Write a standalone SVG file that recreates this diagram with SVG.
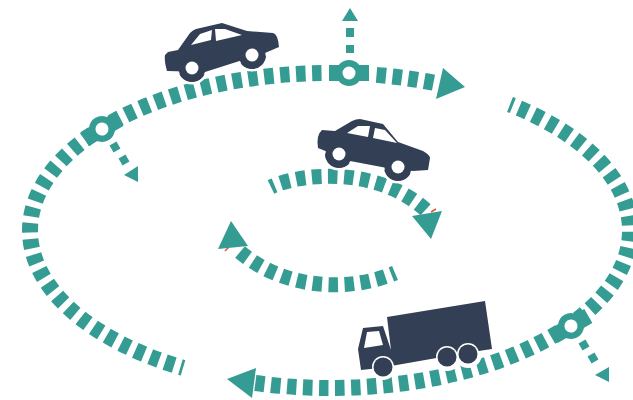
<svg xmlns="http://www.w3.org/2000/svg" width="633" height="400" viewBox="0 0 633 400">
<style>
.road{fill:none;stroke:#359c93;stroke-width:16;stroke-dasharray:9.500 6.500}
.inner{fill:none;stroke:#359c93;stroke-width:15;stroke-dasharray:9.500 6.500}
.t{fill:#359c93}
.d{fill:#333f54;stroke:#fff;stroke-width:5;paint-order:stroke;stroke-linejoin:round}
.p{fill:#333f54}
.w{fill:#fff}
.r{fill:none;stroke:#d9583c;stroke-width:1.500}
</style>
<rect width="633" height="400" fill="#fff"/>
<g id="connectors">
<path class="road" d="M321.500 73A300 157.500 0 0 0 30 230.500A300 157.500 0 0 0 183 367.800"/>
<path class="road" d="M376.500 74.900A300 157.500 0 0 1 437 83.400"/>
<path class="road" stroke-dashoffset="6.500" d="M510 104.500A300 157.500 0 0 1 630 230.500A300 157.500 0 0 1 255 383"/>
<path class="inner" stroke-dashoffset="5.500" d="M271 187C300 173 380 165 429 213"/>
<path class="inner" stroke-dashoffset="5.500" d="M395 273C350 292 285 290 240 252"/>
<path class="r" d="M431 212L436 209M225 251L229 247"/>
<polygon class="t" points="465,87 443,68 436,99"/>
<polygon class="t" points="227,379 256,368 252,398"/>
<polygon class="t" points="412,216 442,211 431,239"/>
<polygon class="t" points="231,221 248,246 218,249"/>
<polygon class="t" points="350,8 342,21 358,21"/>
<rect class="t" x="346" y="28" width="8" height="9"/>
<rect class="t" x="346" y="45" width="8" height="8"/>
<polygon class="t" points="138,166 138,182 124,175"/>
<rect class="t" x="-4" y="-4" width="8" height="8" transform="translate(115 147) rotate(-30)"/>
<rect class="t" x="-4" y="-4" width="8" height="8" transform="translate(124 160) rotate(-30)"/>
<polygon class="t" points="609,367 595,375 609,382"/>
<rect class="t" x="-4" y="-4" width="8" height="8" transform="translate(584 345) rotate(-30)"/>
<rect class="t" x="-4" y="-4" width="8" height="8" transform="translate(593 358) rotate(-30)"/>
</g>
<g id="node-top" transform="translate(349 73)">
<rect class="t" x="-20" y="-8" width="40" height="16"/>
<circle class="t" r="13"/><circle class="w" r="6.500"/>
</g>
<g id="node-left" transform="translate(102 129) rotate(-30)">
<rect class="t" x="-20" y="-8" width="40" height="16"/>
<circle class="t" r="13"/><circle class="w" r="6.500"/>
</g>
<g id="node-right" transform="translate(571 326) rotate(-30)">
<rect class="t" x="-20" y="-8" width="40" height="16"/>
<circle class="t" r="13"/><circle class="w" r="6.500"/>
</g>
<g id="car-top">
<circle class="d" cx="192" cy="68" r="14"/><circle class="d" cx="252" cy="55" r="14"/>
<path class="d" d="M168 52L178 50L190 33Q193 30 196 29L222 23L247 31L273 33Q278 34 279 47L265 53L205 72L167 71Q164 60 165 55Z"/>
<circle class="p" cx="192" cy="68" r="13.500"/><circle class="p" cx="252" cy="55" r="13.500"/>
<circle class="w" cx="192" cy="68" r="6.500"/><circle class="w" cx="252" cy="55" r="6.500"/>
<path class="w" d="M191 45L200 34L212 30L211 40ZM216 41L215 29L225 29L242 35Z"/>
</g>
<g id="car-middle">
<circle class="d" cx="339" cy="154" r="14"/><circle class="d" cx="398" cy="167" r="14"/>
<path class="d" d="M322 130L335 131L352 121Q356 119 360 119L383 124L398 142L423 151Q430 155 430 158L428 170L413 171L387 168L350 161L318 148Q316 135 322 130Z"/>
<circle class="p" cx="339" cy="154" r="13.500"/><circle class="p" cx="398" cy="167" r="13.500"/>
<circle class="w" cx="339" cy="154" r="6.500"/><circle class="w" cx="398" cy="167" r="6.500"/>
<path class="w" d="M347 133L358 126L370 126L368 137ZM375 128L385 130L397 143L373 138Z"/>
</g>
<g id="truck">
<circle class="w" cx="383" cy="367" r="13"/><circle class="w" cx="447" cy="357" r="14"/><circle class="w" cx="468" cy="354" r="14"/>
<polygon class="d" points="387,317 485,301 492,349 465,353 391,366 380,368 361,370 358,349 363,328 383,326 391,350"/>
<polygon class="w" points="367,332 379,331 383,345 364,348"/>
<circle class="w" cx="383" cy="367" r="11"/><circle class="p" cx="383" cy="367" r="9.500"/>
<circle class="w" cx="447" cy="357" r="11"/><circle class="w" cx="468" cy="354" r="11"/>
<circle class="p" cx="447" cy="357" r="9.500"/><circle class="p" cx="468" cy="354" r="9.500"/>
</g>
</svg>
